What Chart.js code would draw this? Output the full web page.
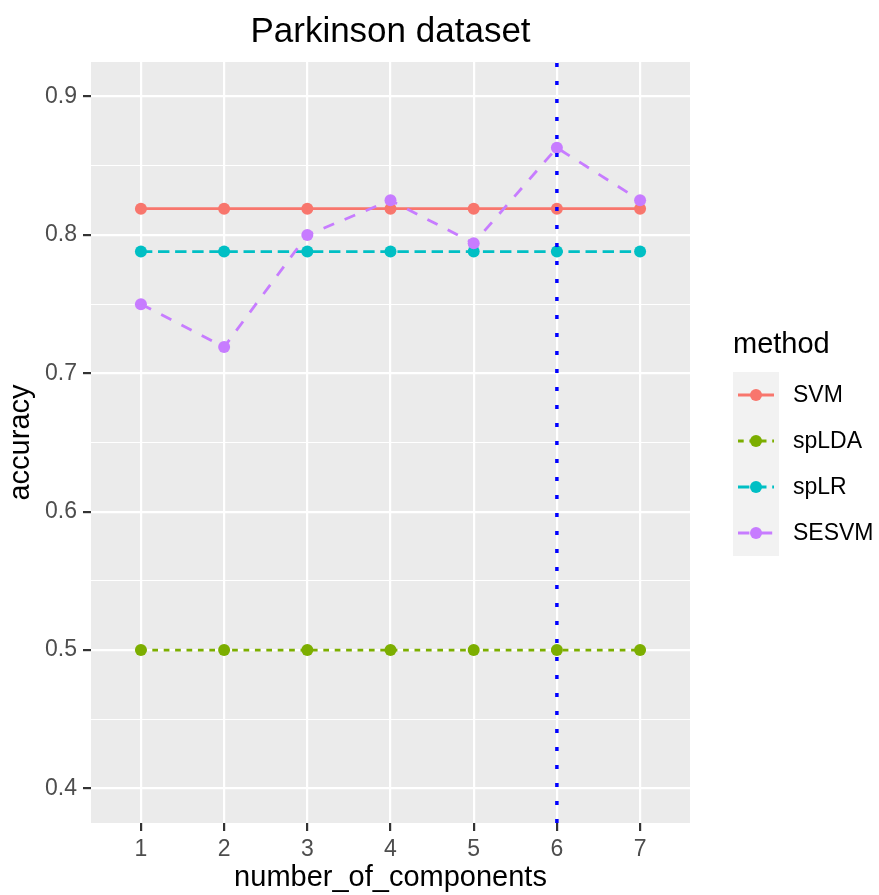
<!DOCTYPE html>
<html>
<head>
<meta charset="utf-8">
<script src="https://cdn.jsdelivr.net/npm/chart.js@4/dist/chart.umd.min.js"></script>
<style>
  html, body { margin: 0; padding: 0; background: #ffffff; }
  #wrap { width: 879px; height: 895px; }
</style>
</head>
<body>
<div id="wrap"><canvas id="c" width="879" height="895"></canvas></div>
<script>
// ---- data ----
const components = [1, 2, 3, 4, 5, 6, 7];
const svmAcc   = [0.819, 0.819, 0.819, 0.819, 0.819, 0.819, 0.819];
const spldaAcc = [0.5, 0.5, 0.5, 0.5, 0.5, 0.5, 0.5];
const splrAcc  = [0.788, 0.788, 0.788, 0.788, 0.788, 0.788, 0.788];
const sesvmAcc = [0.75, 0.719, 0.8, 0.825, 0.794, 0.863, 0.825];
const methods  = ["SVM", "spLDA", "spLR", "SESVM"];
const xTickLabels = ["1", "2", "3", "4", "5", "6", "7"];
const yMajorTicks = [0.4, 0.5, 0.6, 0.7, 0.8, 0.9];
const yMinorTicks = [0.45, 0.55, 0.65, 0.75, 0.85];
const vlineX = 6;
const chartTitle = "Parkinson dataset";
const xTitle = "number_of_components";
const yTitle = "accuracy";
const legendTitle = "method";

// ---- styles ----
const FONT = "'Liberation Sans', Arial, Helvetica, sans-serif";
const colors = { SVM: "#F8766D", spLDA: "#7CAE00", spLR: "#00BFC4", SESVM: "#C77CFF" };
const dashes = { SVM: [], spLDA: [5.7, 5.7], spLR: [11.4, 5.7], SESVM: [11.4, 11.4] };
const LW = 2.8;

const seriesValues = { SVM: svmAcc, spLDA: spldaAcc, spLR: splrAcc, SESVM: sesvmAcc };
const drawOrder = { SVM: 3, spLDA: 2, spLR: 1, SESVM: 0 };

const datasets = methods.map(m => ({
  label: m,
  data: components.map((c, i) => ({ x: c, y: seriesValues[m][i] })),
  borderColor: colors[m],
  backgroundColor: colors[m],
  borderWidth: LW,
  borderDash: dashes[m],
  pointRadius: 6,
  pointHoverRadius: 6,
  pointBorderWidth: 0,
  pointBackgroundColor: colors[m],
  tension: 0,
  fill: false,
  order: drawOrder[m]
}));

const isMajor = v => yMajorTicks.some(t => Math.abs(t - v) < 1e-9);

const decorPlugin = {
  id: 'decor',
  beforeDraw(chart) {
    const { ctx, chartArea: a } = chart;
    ctx.save();
    ctx.fillStyle = '#ffffff';
    ctx.fillRect(0, 0, chart.width, chart.height);
    ctx.fillStyle = '#EBEBEB';
    ctx.fillRect(a.left, a.top, a.right - a.left, a.bottom - a.top);
    ctx.restore();
  },
  afterDatasetsDraw(chart) {
    const { ctx, chartArea: a, scales } = chart;
    const px = scales.x.getPixelForValue(vlineX);
    ctx.save();
    ctx.strokeStyle = '#0000FF';
    ctx.lineWidth = 3.5;
    ctx.setLineDash([4, 14]);
    ctx.beginPath();
    ctx.moveTo(px, a.bottom);
    ctx.lineTo(px, a.top);
    ctx.stroke();
    ctx.restore();
  },
  afterDraw(chart) {
    const { ctx, chartArea: a } = chart;
    ctx.save();
    // title
    ctx.fillStyle = '#000000';
    ctx.font = `35px ${FONT}`;
    ctx.textAlign = 'center';
    ctx.textBaseline = 'alphabetic';
    ctx.fillText(chartTitle, (a.left + a.right) / 2, 42);
    // legend
    const lx = 733;
    ctx.textAlign = 'left';
    ctx.font = `29px ${FONT}`;
    ctx.fillText(legendTitle, lx, 353);
    const keyW = 46, keyH = 46, keyTop = 372;
    methods.forEach((m, i) => {
      const ky = keyTop + i * keyH;
      ctx.fillStyle = '#F2F2F2';
      ctx.fillRect(lx, ky, keyW, keyH);
      const cy = ky + keyH / 2;
      ctx.strokeStyle = colors[m];
      ctx.lineWidth = LW;
      ctx.setLineDash(dashes[m]);
      ctx.beginPath();
      ctx.moveTo(lx + 5, cy);
      ctx.lineTo(lx + keyW - 5, cy);
      ctx.stroke();
      ctx.setLineDash([]);
      ctx.fillStyle = colors[m];
      ctx.beginPath();
      ctx.arc(lx + keyW / 2, cy, 6, 0, Math.PI * 2);
      ctx.fill();
      ctx.fillStyle = '#000000';
      ctx.font = `23px ${FONT}`;
      ctx.textBaseline = 'middle';
      ctx.fillText(m, 793, cy + 1);
      ctx.textBaseline = 'alphabetic';
    });
    ctx.restore();
  }
};

new Chart(document.getElementById('c'), {
  type: 'line',
  data: { datasets },
  options: {
    responsive: false,
    animation: false,
    devicePixelRatio: 1,
    layout: { padding: { top: 62, right: 189, left: 0, bottom: 0 } },
    plugins: {
      legend: { display: false },
      title: { display: false },
      tooltip: { enabled: false }
    },
    scales: {
      x: {
        type: 'linear',
        min: 0.4,
        max: 7.6,
        afterBuildTicks(scale) {
          scale.ticks = components.map(v => ({ value: v }));
        },
        afterFit(scale) { scale.height = 72; },
        border: { display: false },
        grid: {
          color: '#FFFFFF',
          lineWidth: 2.2,
          drawTicks: true,
          tickLength: 8,
          tickColor: '#333333',
          tickWidth: 2.2
        },
        ticks: {
          color: '#4D4D4D',
          font: { family: FONT, size: 23 },
          padding: 5,
          maxRotation: 0,
          autoSkip: false,
          callback: (v) => xTickLabels[components.indexOf(v)] ?? ''
        },
        title: {
          display: true,
          text: xTitle,
          color: '#000000',
          font: { family: FONT, size: 29 },
          padding: { top: 0, bottom: 0 }
        }
      },
      y: {
        type: 'linear',
        min: 0.375,
        max: 0.925,
        afterBuildTicks(scale) {
          scale.ticks = [...yMajorTicks, ...yMinorTicks].sort((a, b) => a - b).map(v => ({ value: v }));
        },
        afterFit(scale) { scale.width = 91; },
        border: { display: false },
        grid: {
          color: '#FFFFFF',
          lineWidth: (ctx) => (ctx.tick && isMajor(ctx.tick.value)) ? 2.2 : 1.1,
          drawTicks: true,
          tickLength: 8,
          tickColor: (ctx) => (ctx.tick && isMajor(ctx.tick.value)) ? '#333333' : 'rgba(0,0,0,0)',
          tickWidth: 2.2
        },
        ticks: {
          color: '#4D4D4D',
          font: { family: FONT, size: 23 },
          padding: 6,
          autoSkip: false,
          callback: (v) => isMajor(v) ? v.toFixed(1) : ''
        },
        title: {
          display: true,
          text: yTitle,
          color: '#000000',
          font: { family: FONT, size: 29 },
          padding: { top: 4, bottom: 0 }
        }
      }
    }
  },
  plugins: [decorPlugin]
});
</script>
</body>
</html>
